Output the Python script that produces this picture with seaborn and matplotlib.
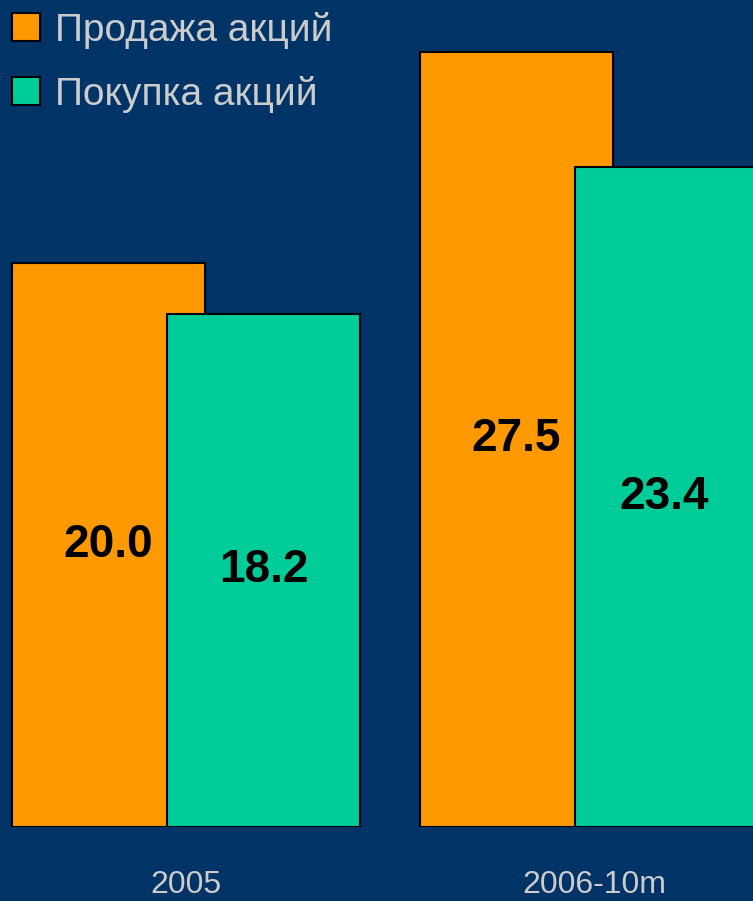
import pandas as pd
import matplotlib.pyplot as plt
import seaborn as sns


periods = ['2005', '2006-10m']
series_names = ['Продажа акций', 'Покупка акций']
sales = [20.0, 27.5]
purchases = [18.2, 23.4]

BG = '#003366'
COLORS = ['#FF9900', '#00CC99']
TEXT = '#CCCCCC'
FONT = ['Liberation Sans', 'DejaVu Sans']

# bars of a group overlap: second series shifted right by less than a bar width
SHIFT = 0.38
WIDTH = 0.473


def build_frame():
    rows = []
    for i, period in enumerate(periods):
        rows.append({'pos': i, 'period': period, 'series': series_names[0], 'value': sales[i]})
        rows.append({'pos': i + SHIFT, 'period': period, 'series': series_names[1], 'value': purchases[i]})
    return pd.DataFrame(rows)


def plot_chart(df):
    sns.set_style('white')
    plt.rcParams['font.family'] = FONT
    fig = plt.figure(figsize=(7.53, 9.01), dpi=100, facecolor=BG)
    ax = fig.add_axes([0, 74 / 901, 1, 827 / 901])
    ax.set_facecolor(BG)

    for name, color in zip(series_names, COLORS):
        part = df[df['series'] == name]
        sns.barplot(data=part, x='pos', y='value', native_scale=True, width=WIDTH,
                    color=color, saturation=1, edgecolor='black', linewidth=1.5,
                    errorbar=None, ax=ax)

    for cont in ax.containers:
        ax.bar_label(cont, fmt='%.1f', label_type='center', fontsize=33,
                     fontweight='bold', color='black', family=FONT)

    ax.set_xlim(-0.266, 1.58)
    ax.set_ylim(0, 29.33)
    ax.set_xticks([i + SHIFT / 2 for i in range(len(periods))])
    ax.set_xticklabels(periods, color=TEXT, fontsize=23, family=FONT)
    ax.tick_params(axis='x', length=0, pad=31)
    ax.set_yticks([])
    ax.set_xlabel('')
    ax.set_ylabel('')
    sns.despine(ax=ax, left=True, bottom=True)

    leg = ax.legend(ax.containers[:2], series_names, loc='upper left',
                    bbox_to_anchor=(0, 1), frameon=False,
                    handlelength=0.72, handleheight=0.72, handletextpad=0.4,
                    labelspacing=0.7, borderaxespad=0, borderpad=0.3,
                    prop={'family': FONT, 'size': 28})
    for t in leg.get_texts():
        t.set_color(TEXT)

    fig.savefig('out.png', dpi=100, facecolor=BG)
    plt.close(fig)


def main():
    df = build_frame()
    plot_chart(df)


if __name__ == '__main__':
    main()
